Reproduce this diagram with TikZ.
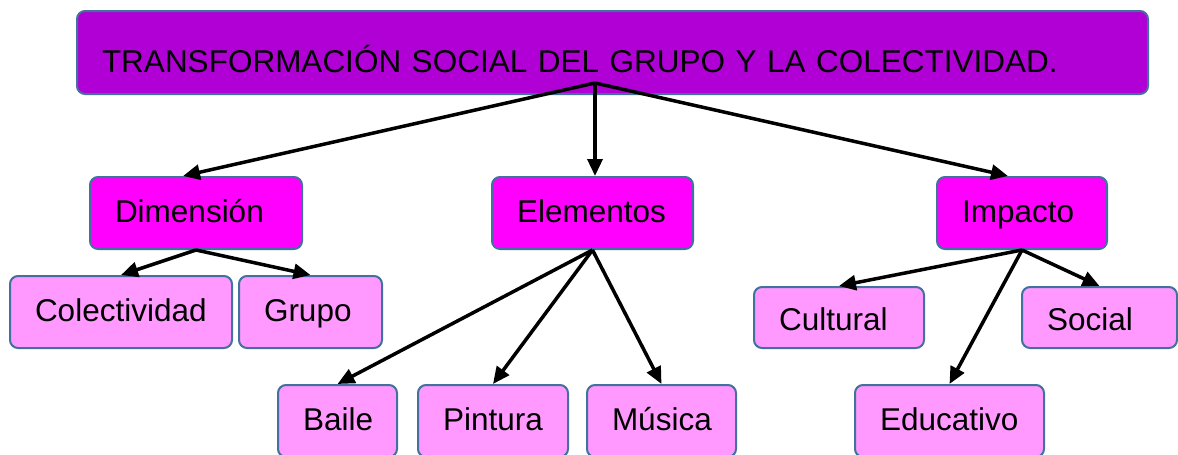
\documentclass[tikz,border=0pt]{standalone}
\usepackage{fontspec}
\setmainfont{Liberation Sans}
\usetikzlibrary{arrows.meta}
\hyphenpenalty=10000
\definecolor{boxline}{RGB}{65,113,156}
\definecolor{toppurple}{RGB}{176,0,214}
\definecolor{midmagenta}{RGB}{255,0,255}
\definecolor{lowpink}{RGB}{255,153,255}
\tikzset{cbox/.style={draw=boxline, line width=2pt, rounded corners=8pt, inner xsep=25pt, inner ysep=0pt, align=left, text height=18pt, text depth=0pt, font=\fontsize{31.5}{36}\selectfont}}
\tikzset{tbox/.style={cbox, fill=toppurple, text height=39pt}, mbox/.style={cbox, fill=midmagenta}, lbox/.style={cbox, fill=lowpink}}
\tikzset{link/.style={black, line width=3.5pt, -{Triangle[length=17pt,width=15pt]}}}
\begin{document}
\begin{tikzpicture}[x=1pt,y=-1pt]
   \useasboundingbox (0,0) rectangle (1178,455);
   \node[tbox, text width=1021pt, minimum height=83pt] (title) at (612.5,52.5) {TRANSFORMACIÓN SOCIAL DEL GRUPO Y LA COLECTIVIDAD.};
   \coordinate (hub) at (595,83);
   \begin{scope}
    \node[mbox, text width=162pt, minimum height=72pt] (dim) at (196,213) {Dimensión};
    \node[lbox, text width=172pt, minimum height=72pt] (colec) at (121,312) {Colectividad};
    \node[lbox, text width=93pt, minimum height=72pt] (grupo) at (310.5,312) {Grupo};
    \draw[link] (hub) -- ([xshift=-13pt]dim.north);
    \draw[link] (dim.south) -- (colec.north);
    \draw[link] (dim.south) -- (grupo.north);
   \end{scope}
   \begin{scope}
    \node[mbox, text width=151pt, minimum height=72pt] (elem) at (592.5,213) {Elementos};
    \node[lbox, text width=69pt, minimum height=72pt] (baile) at (337.5,421) {Baile};
    \node[lbox, text width=100pt, minimum height=72pt] (pint) at (493,421) {Pintura};
    \node[lbox, text width=99pt, minimum height=72pt] (musica) at (661.5,421) {Música};
    \draw[link] (hub) -- (hub |- elem.north);
    \draw[link] (elem.south) -- (baile.north);
    \draw[link] (elem.south) -- (pint.north);
    \draw[link] (elem.south) -- (musica.north);
   \end{scope}
   \begin{scope}
    \node[mbox, text width=120pt, minimum height=72pt] (imp) at (1022,213) {Impacto};
    \node[lbox, text width=120pt, minimum height=61pt, text height=25pt] (cult) at (839,317.5) {Cultural};
    \node[lbox, text width=105pt, minimum height=61pt, text height=25pt] (social) at (1099.5,317.5) {Social};
    \node[lbox, text width=139pt, minimum height=72pt] (educ) at (949.5,421) {Educativo};
    \draw[link] (hub) -- ([xshift=-14pt]imp.north);
    \draw[link] (imp.south) -- (cult.north);
    \draw[link] (imp.south) -- (social.north);
    \draw[link] (imp.south) -- (educ.north);
   \end{scope}
\end{tikzpicture}
\end{document}
